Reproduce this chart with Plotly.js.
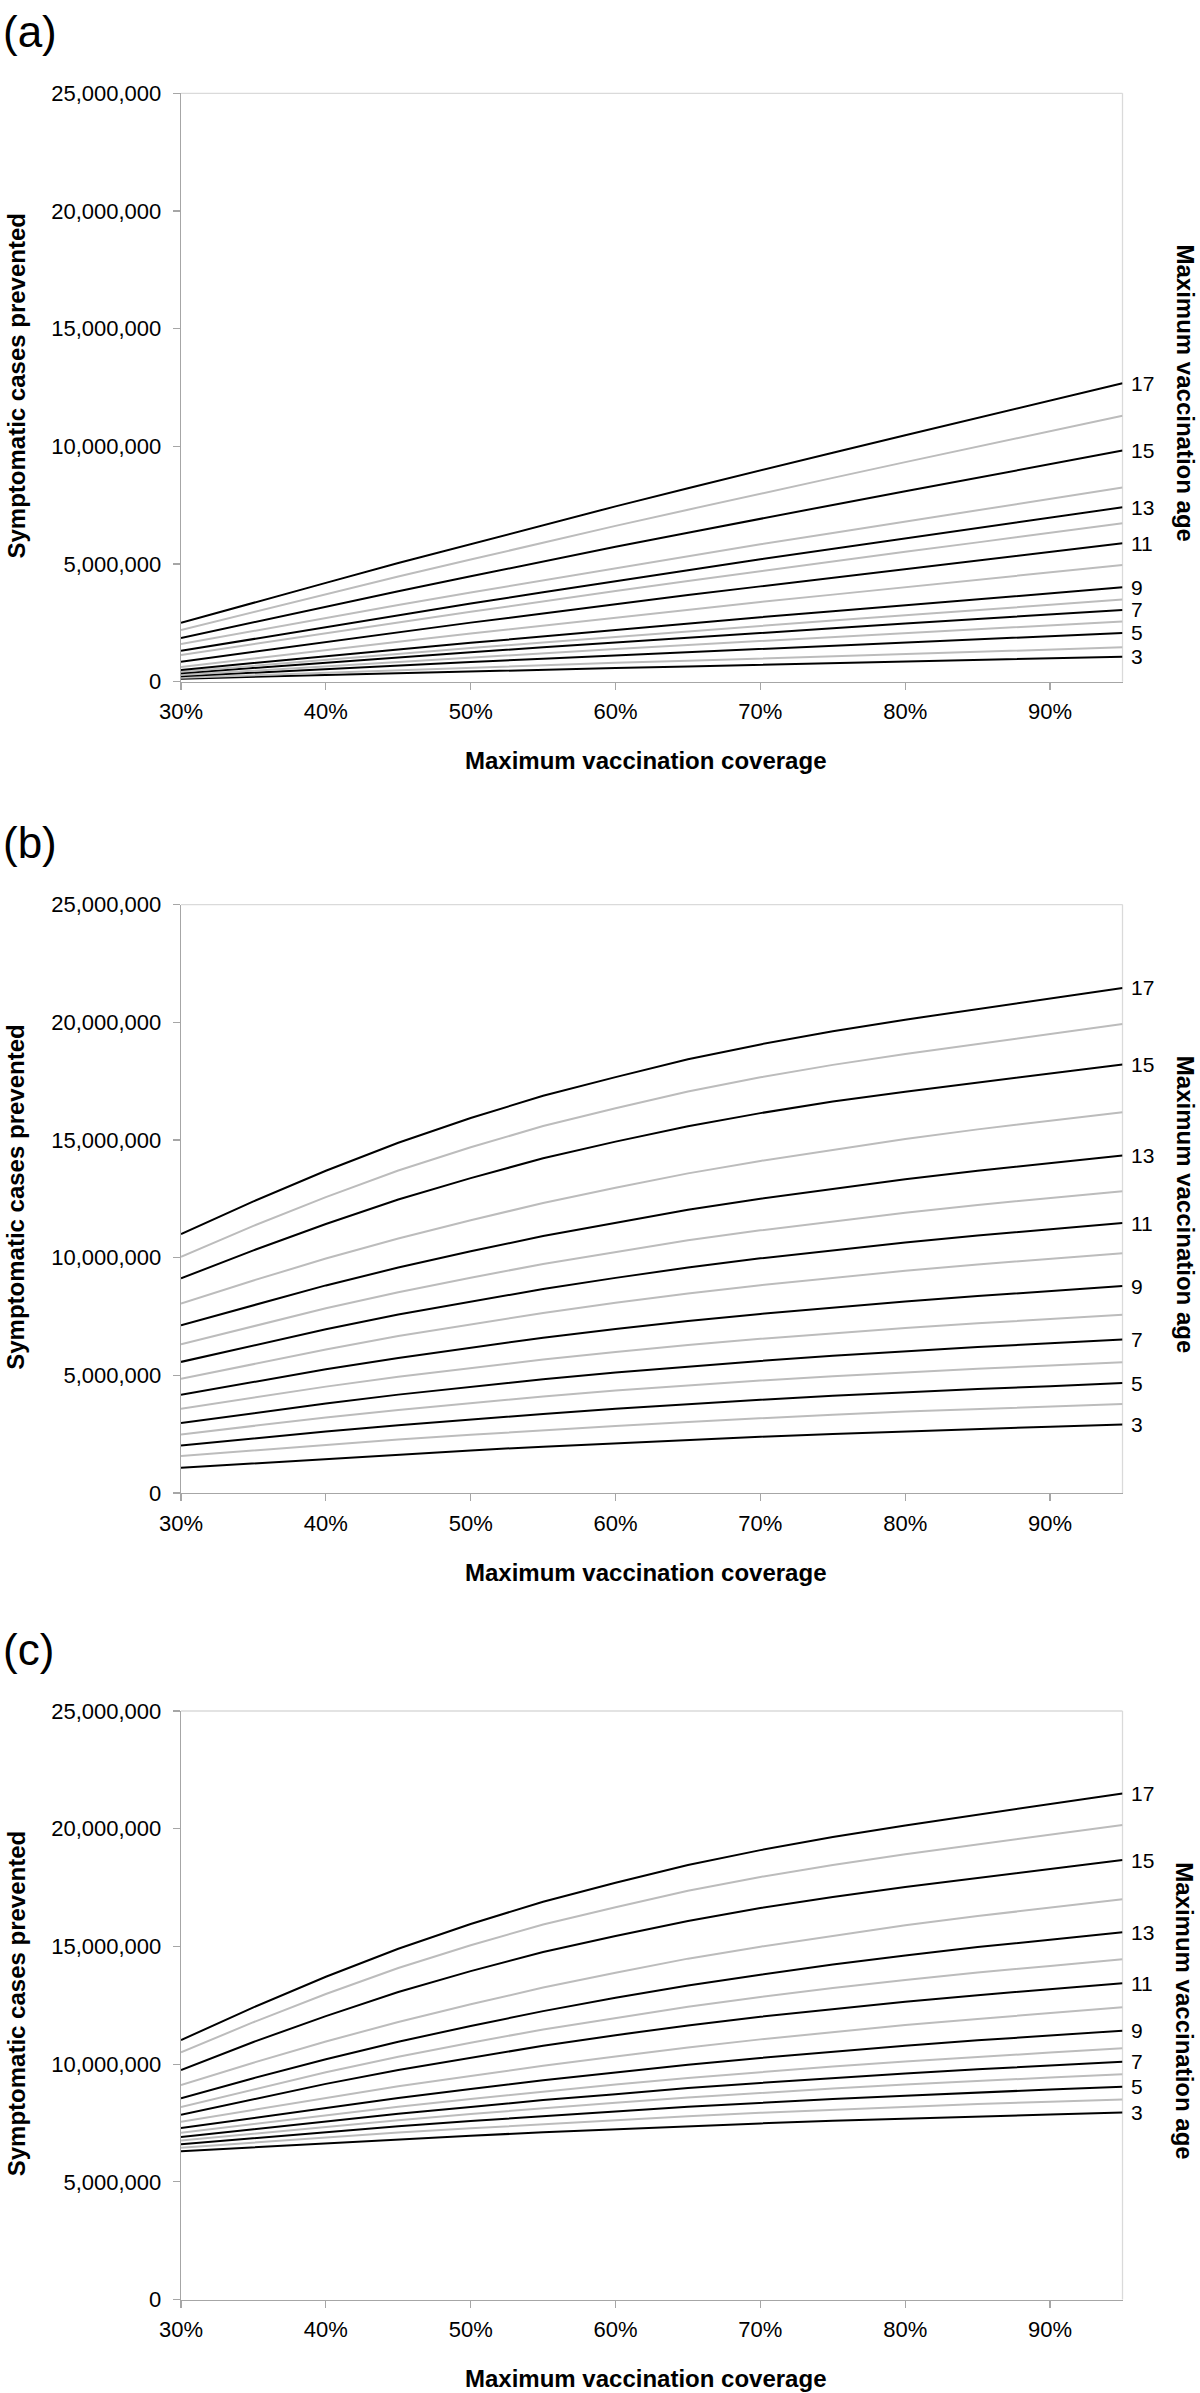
<!DOCTYPE html>
<html><head><meta charset="utf-8">
<script src="https://cdn.plot.ly/plotly-3.0.1.min.js"></script>
<style>html,body{margin:0;padding:0;background:#fff;}</style>
</head><body>
<div id="chart" style="width:1200px;height:2393px;"></div>
<script>
// ---------- DATA (symptomatic cases prevented, millions) ----------
const coverage = [30,35,40,45,50,55,60,65,70,75,80,85,90,95];
const ages = [3,4,5,6,7,8,9,10,11,12,13,14,15,16,17];
const xTickVals = [30,40,50,60,70,80,90];
const xTickText = ['30%','40%','50%','60%','70%','80%','90%'];
const yTickVals = [0,5000000,10000000,15000000,20000000,25000000];
const panelLabels = ['(a)','(b)','(c)'];
const xTitle = 'Maximum vaccination coverage';
const yTitle = 'Symptomatic cases prevented';
const rightTitle = 'Maximum vaccination age';

// panel (a): rows = ages 3..17
const panelA = [
  [0.13,0.21,0.29,0.36,0.44,0.51,0.58,0.65,0.72,0.79,0.86,0.93,0.99,1.06],
  [0.17,0.28,0.39,0.49,0.59,0.70,0.80,0.89,0.99,1.09,1.18,1.27,1.37,1.46],
  [0.23,0.39,0.54,0.69,0.84,0.98,1.12,1.26,1.40,1.54,1.67,1.81,1.94,2.07],
  [0.28,0.47,0.66,0.85,1.03,1.21,1.39,1.56,1.73,1.90,2.07,2.23,2.40,2.56],
  [0.36,0.59,0.81,1.03,1.25,1.46,1.67,1.87,2.07,2.27,2.47,2.66,2.86,3.05],
  [0.42,0.68,0.93,1.18,1.43,1.67,1.91,2.15,2.38,2.60,2.82,3.05,3.27,3.49],
  [0.50,0.80,1.09,1.37,1.65,1.93,2.21,2.47,2.74,2.99,3.25,3.50,3.76,4.01],
  [0.62,0.99,1.35,1.70,2.05,2.39,2.73,3.06,3.39,3.70,4.02,4.34,4.65,4.96],
  [0.85,1.27,1.69,2.10,2.51,2.90,3.30,3.68,4.05,4.42,4.79,5.16,5.52,5.88],
  [1.13,1.60,2.07,2.52,2.97,3.42,3.85,4.28,4.70,5.11,5.52,5.92,6.33,6.73],
  [1.31,1.82,2.33,2.83,3.32,3.80,4.28,4.74,5.20,5.64,6.09,6.53,6.97,7.41],
  [1.60,2.16,2.71,3.26,3.79,4.31,4.83,5.34,5.84,6.32,6.81,7.29,7.77,8.25],
  [1.86,2.53,3.19,3.84,4.48,5.11,5.73,6.33,6.93,7.51,8.09,8.67,9.25,9.82],
  [2.20,2.96,3.72,4.47,5.19,5.91,6.62,7.31,8.00,8.66,9.33,9.99,10.65,11.30],
  [2.50,3.36,4.20,5.04,5.85,6.65,7.45,8.22,8.99,9.73,10.47,11.21,11.95,12.68]
];
// panel (b)
const panelB = [
  [1.07,1.26,1.46,1.64,1.81,1.97,2.12,2.27,2.39,2.51,2.62,2.73,2.82,2.91],
  [1.57,1.81,2.04,2.27,2.47,2.67,2.85,3.02,3.18,3.33,3.46,3.57,3.68,3.78],
  [2.02,2.32,2.61,2.88,3.13,3.36,3.58,3.78,3.96,4.13,4.28,4.42,4.54,4.67],
  [2.49,2.86,3.21,3.53,3.83,4.10,4.35,4.58,4.78,4.96,5.13,5.28,5.42,5.56],
  [2.97,3.40,3.80,4.18,4.51,4.83,5.12,5.38,5.61,5.83,6.02,6.20,6.36,6.52],
  [3.58,4.06,4.52,4.94,5.32,5.67,5.99,6.29,6.55,6.79,7.01,7.21,7.39,7.57],
  [4.17,4.72,5.26,5.74,6.18,6.60,6.97,7.31,7.61,7.89,8.14,8.37,8.58,8.79],
  [4.85,5.49,6.10,6.67,7.17,7.65,8.08,8.48,8.83,9.15,9.44,9.71,9.95,10.19],
  [5.57,6.28,6.96,7.58,8.14,8.67,9.14,9.58,9.97,10.32,10.64,10.94,11.20,11.47],
  [6.32,7.10,7.85,8.53,9.15,9.73,10.25,10.74,11.16,11.55,11.91,12.24,12.53,12.82],
  [7.13,7.98,8.82,9.58,10.27,10.92,11.49,12.03,12.50,12.93,13.33,13.69,14.02,14.34],
  [8.05,9.03,9.96,10.81,11.59,12.32,12.97,13.58,14.11,14.59,15.04,15.45,15.81,16.18],
  [9.12,10.31,11.43,12.47,13.38,14.22,14.93,15.58,16.14,16.63,17.05,17.44,17.83,18.21],
  [10.03,11.35,12.57,13.70,14.69,15.59,16.35,17.06,17.66,18.19,18.65,19.08,19.50,19.93],
  [11.00,12.39,13.69,14.88,15.93,16.88,17.67,18.43,19.06,19.62,20.11,20.56,21.01,21.46]
];
// panel (c)
const panelC = [
  [6.30,6.47,6.64,6.81,6.96,7.10,7.23,7.37,7.48,7.59,7.69,7.78,7.86,7.94],
  [6.45,6.67,6.88,7.09,7.27,7.45,7.62,7.78,7.93,8.06,8.18,8.30,8.40,8.50],
  [6.60,6.86,7.11,7.36,7.58,7.80,7.99,8.19,8.36,8.52,8.66,8.80,8.92,9.04],
  [6.75,7.05,7.34,7.62,7.88,8.13,8.36,8.58,8.78,8.96,9.13,9.29,9.43,9.57],
  [6.90,7.24,7.57,7.89,8.18,8.47,8.72,8.98,9.20,9.41,9.60,9.78,9.94,10.10],
  [7.08,7.46,7.83,8.19,8.52,8.84,9.13,9.41,9.66,9.90,10.11,10.31,10.49,10.67],
  [7.28,7.71,8.15,8.56,8.94,9.31,9.64,9.97,10.26,10.53,10.78,11.01,11.21,11.42],
  [7.55,8.06,8.57,9.06,9.49,9.93,10.32,10.71,11.05,11.37,11.66,11.92,12.17,12.41],
  [7.85,8.52,9.16,9.75,10.28,10.78,11.23,11.64,12.01,12.34,12.65,12.93,13.18,13.43],
  [8.18,8.93,9.65,10.31,10.91,11.47,11.97,12.44,12.85,13.23,13.57,13.89,14.17,14.45],
  [8.55,9.40,10.21,10.95,11.62,12.25,12.82,13.34,13.80,14.23,14.61,14.97,15.28,15.60],
  [9.11,10.06,10.96,11.79,12.54,13.25,13.88,14.48,14.99,15.46,15.90,16.29,16.64,17.00],
  [9.75,10.94,12.04,13.06,13.95,14.76,15.44,16.08,16.63,17.10,17.52,17.90,18.29,18.67],
  [10.50,11.78,12.98,14.08,15.05,15.93,16.66,17.36,17.95,18.46,18.91,19.33,19.74,20.16],
  [11.02,12.41,13.71,14.90,15.95,16.90,17.70,18.46,19.09,19.65,20.14,20.59,21.05,21.50]
];

// ---------- LAYOUT GEOMETRY ----------
const W = 1200, H = 2393;
const px = v => v / W;
const py = v => 1 - v / H;
const panels = [panelA, panelB, panelC];
const plotTop = [93.3, 904.6, 1711];
const plotBot = [681.7, 1493, 2299.5];
const xDom = [px(181), px(1122.5)];
const FONT = 'Liberation Sans, Arial, Helvetica, sans-serif';

const traces = [];
const annotations = [];
const shapes = [];
const layout = {
  width: W, height: H,
  margin: {l:0, r:0, t:0, b:0},
  paper_bgcolor: '#ffffff', plot_bgcolor: '#ffffff',
  showlegend: false,
  font: {family: FONT, size: 22, color: '#000'},
  annotations: annotations, shapes: shapes
};

panels.forEach((data, p) => {
  const sfx = p === 0 ? '' : String(p + 1);
  const xa = 'x' + sfx, ya = 'y' + sfx;
  layout['xaxis' + sfx] = {
    domain: xDom, anchor: ya, range: [30, 95], fixedrange: true,
    tickvals: xTickVals, ticktext: xTickText,
    ticks: 'outside', ticklen: 7, tickwidth: 1.2, tickcolor: '#a6a6a6',
    showline: true, linecolor: '#a6a6a6', linewidth: 1.3,
    showgrid: false, zeroline: false, ticklabelstandoff: 3,
    tickfont: {family: FONT, size: 22, color: '#000'}
  };
  layout['yaxis' + sfx] = {
    domain: [py(plotBot[p]), py(plotTop[p])], anchor: xa, range: [0, 25000000],
    fixedrange: true, tickvals: yTickVals, tickformat: ',d',
    ticks: 'outside', ticklen: 7, tickwidth: 1.2, tickcolor: '#a6a6a6',
    showline: true, linecolor: '#a6a6a6', linewidth: 1.3,
    showgrid: false, zeroline: false, ticklabelstandoff: 7,
    tickfont: {family: FONT, size: 22, color: '#000'}
  };
  // light frame top & right
  shapes.push({type:'line', xref: xa + ' domain', yref: ya + ' domain', x0:0, x1:1, y0:1, y1:1,
               line:{color:'#dadada', width:1.3}, layer:'below'});
  shapes.push({type:'line', xref: xa + ' domain', yref: ya + ' domain', x0:1, x1:1, y0:0, y1:1,
               line:{color:'#dadada', width:1.3}, layer:'below'});

  ages.forEach((age, i) => {
    const odd = age % 2 === 1;
    traces.push({
      type: 'scatter', mode: 'lines', x: coverage,
      y: data[i].map(v => v * 1e6), xaxis: xa, yaxis: ya,
      line: {color: odd ? '#000000' : '#bcbcbc', width: 2},
      hoverinfo: 'skip', name: 'age ' + age
    });
    if (odd) {
      annotations.push({
        xref: xa, yref: ya, x: coverage[coverage.length - 1], y: data[i][data[i].length - 1] * 1e6,
        text: String(age), showarrow: false, xanchor: 'left', yanchor: 'middle', xshift: 6,
        font: {family: FONT, size: 21, color: '#000'}
      });
    }
  });

  const mid = (plotTop[p] + plotBot[p]) / 2;
  // panel label
  annotations.push({xref:'paper', yref:'paper', x: px(1), y: py(plotTop[p] - 62),
    text: panelLabels[p], showarrow:false, xanchor:'left', yanchor:'middle',
    font:{family: FONT, size: 44, color:'#000'}});
  // x title
  annotations.push({xref:'paper', yref:'paper', x: px(645), y: py(plotBot[p] + 79),
    text: xTitle, showarrow:false, xanchor:'center', yanchor:'middle',
    font:{family: FONT, size: 24, color:'#000', weight: 'bold'}});
  // left title
  annotations.push({xref:'paper', yref:'paper', x: px(16), y: py(mid - 1),
    text: yTitle, showarrow:false, textangle: -90, xanchor:'center', yanchor:'middle',
    font:{family: FONT, size: 24, color:'#000', weight: 'bold'}});
  // right title
  annotations.push({xref:'paper', yref:'paper', x: px(1185), y: py(mid + 5),
    text: rightTitle, showarrow:false, textangle: 90, xanchor:'center', yanchor:'middle',
    font:{family: FONT, size: 24, color:'#000', weight: 'bold'}});
});

Plotly.newPlot('chart', traces, layout, {staticPlot: true, displayModeBar: false});
</script>
</body></html>
